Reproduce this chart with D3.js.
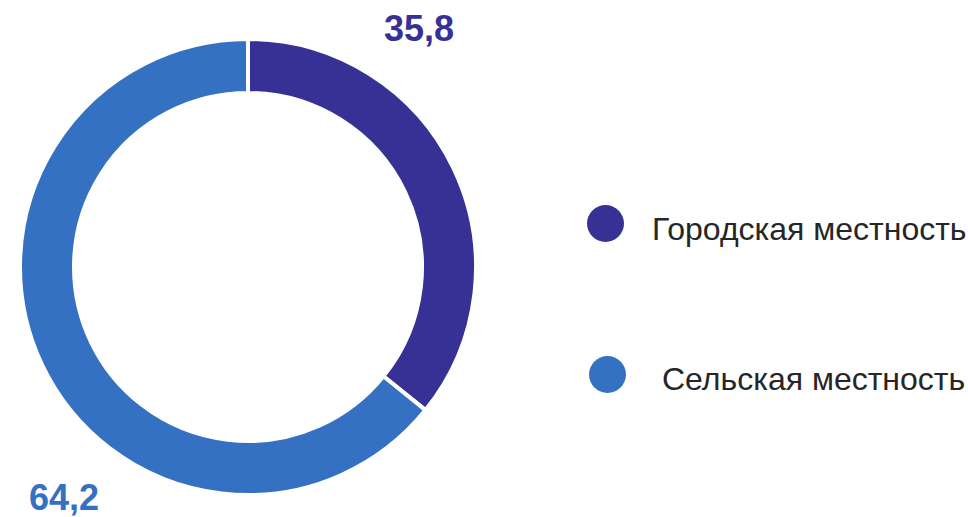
<!DOCTYPE html>
<html><head><meta charset="utf-8">
<script src="https://cdn.jsdelivr.net/npm/d3@7"></script>
<style>html,body{margin:0;padding:0;background:#fff;}svg{display:block;font-family:"Liberation Sans",Arial,sans-serif;}</style>
</head><body>
<svg id="c" width="968" height="517"></svg>
<script>
const categories = ["Городская местность", "Сельская местность"];
const values = [35.8, 64.2];
const valueLabels = ["35,8", "64,2"];
const colors = ["#373195", "#3571c2"];

const svg = d3.select("#c");
const cx = 248, cy = 267, R = 228, r = 174;
const pie = d3.pie().sort(null).value(d => d)(values);
const arc = d3.arc().innerRadius(r).outerRadius(R);
const g = svg.append("g").attr("transform", `translate(${cx},${cy})`);
g.selectAll("path").data(pie).join("path")
  .attr("d", arc).attr("fill", (d,i) => colors[i])
  .attr("stroke", "#fff").attr("stroke-width", 4).attr("stroke-linejoin","miter");

// value labels
const labelPos = [[419, 41], [64, 510]];
svg.selectAll("text.val").data(valueLabels).join("text")
  .attr("class","val")
  .attr("x", (d,i) => labelPos[i][0]).attr("y", (d,i) => labelPos[i][1])
  .attr("text-anchor","middle").attr("font-weight","bold").attr("font-size", 36)
  .attr("fill", (d,i) => colors[i]).text(d => d);

// legend
const legPos = [[605.5, 223.5, 652, 240], [607.5, 374.5, 662, 390]];
const leg = svg.selectAll("g.leg").data(categories).join("g").attr("class","leg");
leg.append("circle").attr("cx",(d,i)=>legPos[i][0]).attr("cy",(d,i)=>legPos[i][1]).attr("r",18.5)
  .attr("fill",(d,i)=>colors[i]);
leg.append("text").attr("x",(d,i)=>legPos[i][2]).attr("y",(d,i)=>legPos[i][3])
  .attr("font-size",32).attr("fill","#262626").text(d=>d);
</script>
</body></html>
